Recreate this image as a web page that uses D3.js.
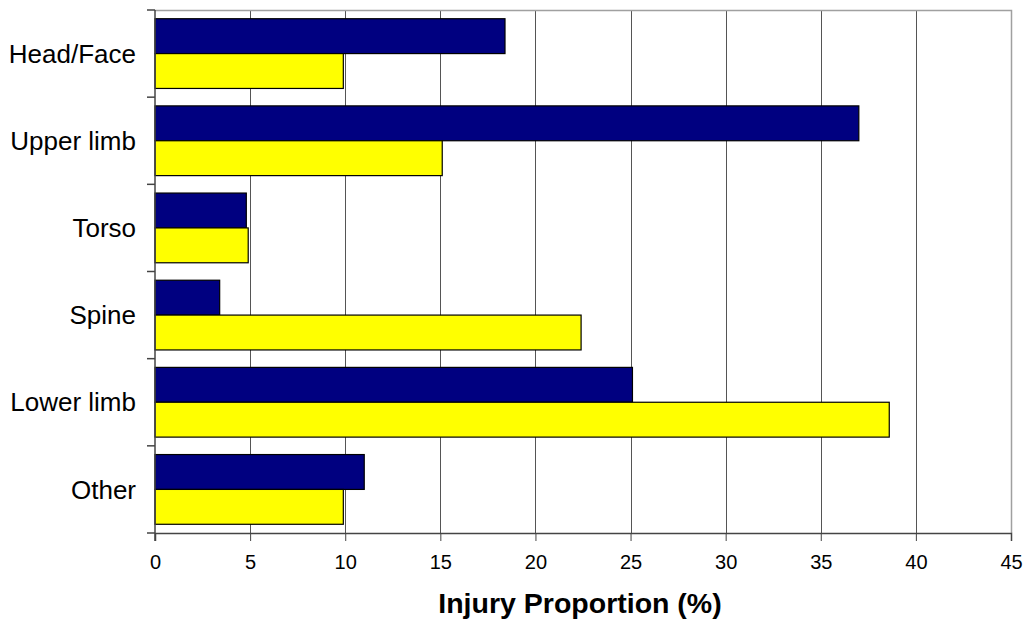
<!DOCTYPE html>
<html>
<head>
<meta charset="utf-8">
<script src="https://cdn.jsdelivr.net/npm/d3@7"></script>
<style>
  html, body { margin: 0; padding: 0; background: #fff; }
  svg { display: block; }
  text { font-family: "Liberation Sans", Arial, sans-serif; fill: #000; }
</style>
</head>
<body>
<svg id="chart" width="1026" height="621"></svg>
<script>
const categories = ["Head/Face", "Upper limb", "Torso", "Spine", "Lower limb", "Other"];
const seriesNames = ["Series A", "Series B"];
const seriesA = [18.4, 37.0, 4.8, 3.4, 25.1, 11.0];
const seriesB = [9.9, 15.1, 4.9, 22.4, 38.6, 9.9];
const xTicks = [0, 5, 10, 15, 20, 25, 30, 35, 40, 45];
const xTitle = "Injury Proportion (%)";
const colors = ["#000080", "#ffff00"];

const svg = d3.select("#chart");
const pL = 155, pR = 1011, pT = 10, pB = 533;

const x = d3.scaleLinear().domain([0, 45]).range([pL, pR]);
const y = d3.scaleBand().domain(categories).range([pT, pB]).paddingInner(0.2).paddingOuter(0.1);
const ySub = d3.scaleBand().domain(seriesNames).range([0, y.bandwidth()]);

// gridlines
svg.append("g").selectAll("line").data(xTicks.filter(t => t > 0 && t < 45)).join("line")
  .attr("x1", d => Math.round(x(d)) + 0.5).attr("x2", d => Math.round(x(d)) + 0.5)
  .attr("y1", pT).attr("y2", pB)
  .attr("stroke", "#555").attr("stroke-width", 1);

// plot border top & right
svg.append("path")
  .attr("d", `M${pL},${pT + 0.5}H${pR + 0.5}V${pB}`)
  .attr("fill", "none").attr("stroke", "#a0a0a0").attr("stroke-width", 1.5);

// bars
const data = [];
categories.forEach((c, i) => {
  data.push({ c, s: seriesNames[0], v: seriesA[i], col: colors[0] });
  data.push({ c, s: seriesNames[1], v: seriesB[i], col: colors[1] });
});
svg.append("g").selectAll("rect").data(data).join("rect")
  .attr("x", x(0))
  .attr("y", d => y(d.c) + ySub(d.s))
  .attr("width", d => x(d.v) - x(0))
  .attr("height", ySub.bandwidth())
  .attr("fill", d => d.col)
  .attr("stroke", "#000").attr("stroke-width", 1.2);

// x axis
const xAxis = d3.axisBottom(x).tickValues(xTicks).tickSize(8).tickPadding(14).tickFormat(d3.format("d"));
const gx = svg.append("g").attr("transform", `translate(0,${pB})`).call(xAxis);
gx.select(".domain").attr("stroke", "#444").attr("stroke-width", 1.5);
gx.selectAll(".tick line").attr("stroke", "#444");
gx.selectAll(".tick text").attr("font-size", 20).style("font-family", "'Liberation Sans', Arial, sans-serif");

// y axis (category boundaries ticks)
const bounds = d3.range(categories.length + 1).map(i => pT + i * (pB - pT) / categories.length);
svg.append("line").attr("x1", pL).attr("x2", pL).attr("y1", pT).attr("y2", pB + 8)
  .attr("stroke", "#444").attr("stroke-width", 1.5);
svg.append("g").selectAll("line").data(bounds).join("line")
  .attr("x1", pL - 8).attr("x2", pL).attr("y1", d => d).attr("y2", d => d)
  .attr("stroke", "#444").attr("stroke-width", 1.5);

svg.append("g").selectAll("text").data(categories).join("text")
  .attr("x", 136)
  .attr("y", d => y(d) + y.bandwidth() / 2)
  .attr("dy", "0.35em")
  .attr("text-anchor", "end")
  .attr("font-size", 26)
  .text(d => d);

// title
svg.append("text").attr("x", 580).attr("y", 613).attr("text-anchor", "middle")
  .attr("font-size", 28.5).attr("font-weight", "bold").text(xTitle);
</script>
</body>
</html>
